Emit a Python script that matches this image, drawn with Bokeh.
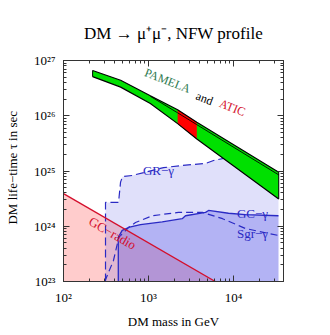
from bokeh.plotting import figure
from bokeh.models import FixedTicker, LogAxis, Range1d, CustomJSTickFormatter
from bokeh.core.properties import value
from bokeh.embed import file_html
from bokeh.resources import INLINE

# ---------------- data (mass in GeV, lifetime in s) ----------------
pam_mass = [220, 470, 1050, 2200, 3700, 34000]
pam_upper = [6.6e26, 4.4e26, 2.3e26, 1.28e26, 7.6e25, 9.5e24]
pam_lower = [5.1e26, 3.3e26, 1.67e26, 7.2e25, 3.8e25, 3.1e24]
inner_mass = [1050, 2200, 3700, 34000]
inner_tau = [2.25e26, 1.13e26, 6.9e25, 8.5e24]
atic_range = [2200, 3700]

gr_mass = [312, 312, 444, 469, 494, 643, 1500, 2490, 4690, 5820, 8500, 19100, 33800]
gr_tau = [1e23, 2.7e24, 2.7e24, 6.3e24, 7.9e24, 8.3e24, 1.15e25, 1.26e25, 1.37e25, 1.55e25, 1.75e25, 1.43e25, 9.4e24]

gc_mass = [441, 441, 490, 582, 805, 1450, 2490, 2720, 4690, 5080, 8730, 13800, 33800]
gc_tau = [1e23, 6.3e23, 8.4e23, 9.5e23, 1.07e24, 1.2e24, 1.37e24, 1.55e24, 1.78e24, 1.93e24, 1.72e24, 1.63e24, 1.55e24]

sgr_mass = [306, 387, 448, 582, 703, 1107, 2250, 4310, 7430, 13800, 33800]
sgr_tau = [1e23, 2.4e23, 6.3e23, 9.5e23, 1.17e24, 1.55e24, 1.78e24, 1.78e24, 1.37e24, 9.1e23, 6.8e23]

radio_mass = [100, 6100]
radio_tau = [3.9e24, 1e23]

x_ticks = [1e2, 1e3, 1e4]
y_ticks = [1e23, 1e24, 1e25, 1e26, 1e27]
x_lim = [100, 38700]
y_lim = [1e23, 1e27]

TITLE = "DM \u2192 \u03bc\u207a\u03bc\u207b, NFW profile"

SERIF = "Liberation Serif"
BLUE = "#2a2ac4"
RED = "#d40f2c"

p = figure(width=330, height=335, x_axis_type="log", y_axis_type="log",
           x_range=Range1d(*x_lim), y_range=Range1d(*y_lim),
           output_backend="svg", toolbar_location=None,
           min_border_left=63, min_border_right=47, min_border_top=60, min_border_bottom=54)
p.grid.visible = False
p.outline_line_color = "#333333"
p.background_fill_color = "white"
p.border_fill_color = "white"

# GC radio (pink)
p.patch(radio_mass + [radio_mass[0]], radio_tau + [y_lim[0]],
        fill_color="#ff0000", fill_alpha=0.2, line_color=None)
# GR gamma (light lavender)
p.patch(gr_mass + [gr_mass[-1]], gr_tau + [y_lim[0]],
        fill_color="#6464e6", fill_alpha=0.2, line_color=None)
# GC gamma (medium blue)
p.patch(gc_mass + [gc_mass[-1]], gc_tau + [y_lim[0]],
        fill_color="#3c3ce6", fill_alpha=0.27, line_color=None)

# lines
p.line(gr_mass, gr_tau, line_color=BLUE, line_width=1.2, line_dash="8 4")
p.line(sgr_mass, sgr_tau, line_color=BLUE, line_width=1.2, line_dash="7 4")
p.line(gc_mass, gc_tau, line_color=BLUE, line_width=1.3)
p.line(radio_mass, radio_tau, line_color=RED, line_width=1.3)

# PAMELA band
p.patch(pam_mass + pam_mass[::-1], pam_upper + pam_lower[::-1],
        fill_color="#00e000", line_color=None)
idx = [i for i, m in enumerate(pam_mass) if atic_range[0] <= m <= atic_range[1]]
am = [pam_mass[i] for i in idx]
p.patch(am + am[::-1], [pam_upper[i] for i in idx] + [pam_lower[i] for i in idx][::-1],
        fill_color="#ff0000", line_color=None)
p.line(pam_mass, pam_upper, line_color="black", line_width=1.2)
p.line(pam_mass, pam_lower, line_color="black", line_width=1.2)
p.line(inner_mass, inner_tau, line_color="black", line_width=0.9)
p.line([pam_mass[0]] * 2, [pam_upper[0], pam_lower[0]], line_color="black", line_width=1)
p.line([pam_mass[-1]] * 2, [pam_upper[-1], pam_lower[-1]], line_color="black", line_width=1)

# labels
ang = -0.37
def lab(x, y, t, color, size="12px", angle=0.0):
    p.text(x=[x], y=[y], text=[t], angle=angle, text_color=color,
           text_font=value(SERIF), text_font_size=size,
           text_align="center", text_baseline="middle")

lab(1675, 4.3e26, "PAMELA", "#2e7a50", angle=ang)
lab(4560, 2.05e26, "and", "black", angle=ang)
lab(9700, 1.4e26, "ATIC", RED, angle=ang)
lab(1310, 1.02e25, "GR\u2212\u03b3", BLUE, size="13px")
lab(16700, 1.69e24, "GC\u2212\u03b3", BLUE, size="13px")
lab(16700, 7.5e23, "Sgr\u2212\u03b3", BLUE, size="13px")
lab(377, 7.5e23, "GC\u2212radio", RED, size="13px", angle=-0.52)

# axes
fmt_code = """
const sup = {'0':'\\u2070','1':'\\u00b9','2':'\\u00b2','3':'\\u00b3','4':'\\u2074','5':'\\u2075','6':'\\u2076','7':'\\u2077','8':'\\u2078','9':'\\u2079','-':'\\u207b'};
const e = Math.round(Math.log10(tick));
return '10' + String(e).split('').map(c => sup[c]).join('');
"""

def minor(ticks):
    out = []
    for t in ticks:
        for k in range(2, 10):
            out.append(t * k)
    return out

xt = FixedTicker(ticks=x_ticks, minor_ticks=minor(x_ticks))
yt = FixedTicker(ticks=y_ticks, minor_ticks=minor(y_ticks))

def style(ax, labels=True):
    ax.major_tick_in = 6
    ax.major_tick_out = 0
    ax.minor_tick_in = 3
    ax.minor_tick_out = 0
    ax.axis_line_color = "#333333"
    ax.major_tick_line_color = "#333333"
    ax.minor_tick_line_color = "#333333"
    ax.formatter = CustomJSTickFormatter(code=fmt_code)
    ax.major_label_text_font = SERIF
    ax.major_label_text_font_size = "13px"
    ax.major_label_standoff = 8
    ax.axis_label_text_font = SERIF
    ax.axis_label_text_font_size = "13px"
    ax.axis_label_text_font_style = "normal"
    ax.axis_label_text_color = "black"
    if labels:
        ax.major_label_text_color = "black"
    else:
        ax.major_label_text_alpha = 0.0

p.xaxis.ticker = xt
p.yaxis.ticker = yt
style(p.xaxis[0])
style(p.yaxis[0])
p.xaxis.axis_label = "DM mass in GeV"
p.yaxis.axis_label = "\u2002DM life\u2212time \u03c4 in sec"
p.xaxis.axis_label_standoff = 6
p.yaxis.axis_label_standoff = 11

# top axis carries the chart title as its label
top = LogAxis(ticker=xt)
style(top, labels=False)
top.major_label_standoff = 5
top.axis_label = TITLE
top.axis_label_text_font_size = "17px"
top.axis_label_standoff = 18
p.add_layout(top, "above")
right = LogAxis(ticker=yt)
style(right, labels=False)
p.add_layout(right, "right")

open("out.html", "w").write(file_html(p, INLINE))
